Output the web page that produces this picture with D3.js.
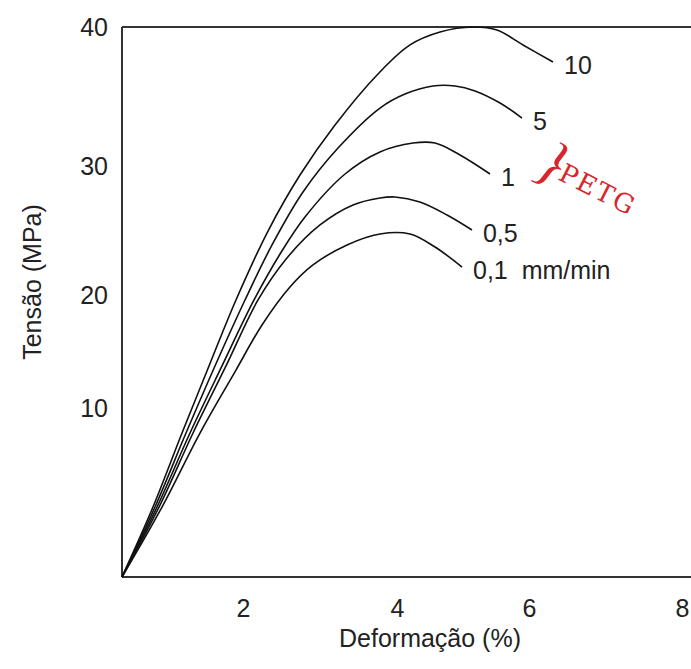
<!DOCTYPE html>
<html><head><meta charset="utf-8">
<script src="https://cdn.jsdelivr.net/npm/d3@7"></script>
<style>body{margin:0;background:#fff} svg{display:block}</style>
</head><body><svg id="c" width="691" height="669"></svg>
<script>
// ---- data ----
const xTickValues = [2, 4, 6, 8];
const yTickValues = [10, 20, 30, 40];
const rateLabels = ["10", "5", "1", "0,5", "0,1  mm/min"];
const curve10 = [[0,0],[0.512,4.14],[0.992,8.52],[1.438,13.72],[1.884,19.56],[2.325,24.96],[2.740,29.30],[3.195,32.95],[3.753,36.62],[4.197,38.71],[4.652,39.64],[5.152,40.0],[5.515,39.78],[5.909,38.71],[6.314,37.48]];
const curve5  = [[0,0],[0.545,4.14],[1.058,8.52],[1.537,13.72],[2.026,19.56],[2.377,23.88],[2.779,27.98],[3.234,31.29],[3.779,34.17],[4.121,35.18],[4.545,35.76],[4.879,35.76],[5.182,35.40],[5.561,34.53],[5.894,33.45]];
const curve1  = [[0,0],[0.579,4.14],[1.124,8.52],[1.653,13.72],[2.143,19.56],[2.481,23.18],[2.805,26.05],[3.325,29.38],[3.779,31.01],[4.242,31.65],[4.576,31.65],[4.955,30.79],[5.409,29.38]];
const curve05 = [[0,0],[0.612,4.14],[1.174,8.52],[1.719,13.72],[2.195,19.56],[2.571,22.87],[3.0,25.43],[3.429,26.98],[3.779,27.52],[3.974,27.60],[4.348,27.21],[4.758,26.20],[5.136,25.04]];
const curve01 = [[0,0],[0.661,4.14],[1.289,8.52],[1.884,13.36],[2.247,17.35],[2.610,20.62],[2.909,22.33],[3.351,23.88],[3.779,24.73],[4.197,24.73],[4.576,23.72],[4.985,22.17]];
const curves = [curve10, curve5, curve1, curve05, curve01];

// ---- chart ----
const W = 691, H = 669;
const svg = d3.select("#c");
svg.append("rect").attr("width", W).attr("height", H).attr("fill", "#fff");
const font = "'Liberation Sans', Arial, Helvetica, sans-serif";
const fs = 25;

// scanned figure: axis spacing not uniform, so piecewise-linear scales
const x = d3.scaleLinear().domain([0, 2, 4, 6, 8]).range([122, 243, 397, 529, 682]);
const y = d3.scaleLinear().domain([0, 10, 20, 30, 40]).range([577, 408, 295, 166, 27]);

// frame
const frame = svg.append("g").attr("stroke", "#333").attr("stroke-width", 2).attr("fill", "none");
frame.append("line").attr("x1", x(0)).attr("x2", x(0)).attr("y1", y(0)).attr("y2", y(40));
frame.append("line").attr("x1", x(0)).attr("x2", W).attr("y1", y(40)).attr("y2", y(40));
frame.append("line").attr("x1", x(0)).attr("x2", W).attr("y1", y(0)).attr("y2", y(0));

// axes (labels only)
const gx = svg.append("g").attr("transform", `translate(0,${y(0)})`)
  .call(d3.axisBottom(x).tickValues(xTickValues).tickSize(0).tickPadding(22).tickFormat(d3.format("d")));
const gy = svg.append("g").attr("transform", `translate(${x(0)},0)`)
  .call(d3.axisLeft(y).tickValues(yTickValues).tickSize(0).tickPadding(14).tickFormat(d3.format("d")));
[gx, gy].forEach(g => {
  g.select(".domain").remove();
  g.selectAll("text").attr("font-family", font).attr("font-size", fs).attr("fill", "#222");
});

// axis titles
svg.append("text").attr("x", 430).attr("y", 638).attr("text-anchor", "middle").attr("dominant-baseline", "central")
  .attr("font-family", font).attr("font-size", fs).attr("fill", "#222").text("Deformação (%)");
svg.append("text").attr("transform", "translate(32,282) rotate(-90)").attr("text-anchor", "middle").attr("dominant-baseline", "central")
  .attr("font-family", font).attr("font-size", fs).attr("fill", "#222").text("Tensão (MPa)");

// curves
const line = d3.line().x(d => x(d[0])).y(d => y(d[1])).curve(d3.curveCatmullRom.alpha(0.5));
svg.append("g").selectAll("path").data(curves).join("path")
  .attr("d", line).attr("fill", "none").attr("stroke", "#111").attr("stroke-width", 1.6);

// curve labels
svg.append("g").selectAll("text").data(curves).join("text")
  .attr("x", d => x(d[d.length - 1][0]) + 11)
  .attr("y", d => y(d[d.length - 1][1]) + 3)
  .attr("dominant-baseline", "central")
  .attr("font-family", font).attr("font-size", fs).attr("fill", "#222")
  .attr("xml:space", "preserve").style("white-space", "pre")
  .text((d, i) => rateLabels[i]);

// PETG annotation
const petg = svg.append("text").attr("transform", `translate(${x(6.06)},${y(29.4)}) rotate(27)`)
  .attr("fill", "#d9262c");
petg.append("tspan").attr("font-family", "'Liberation Serif', serif").attr("font-style", "italic").attr("font-size", 58).text("}");
petg.append("tspan").attr("font-family", "'DejaVu Serif', 'Liberation Serif', serif").attr("font-size", 26)
  .attr("letter-spacing", 2).attr("dy", -6).text("PETG");
</script></body></html>
